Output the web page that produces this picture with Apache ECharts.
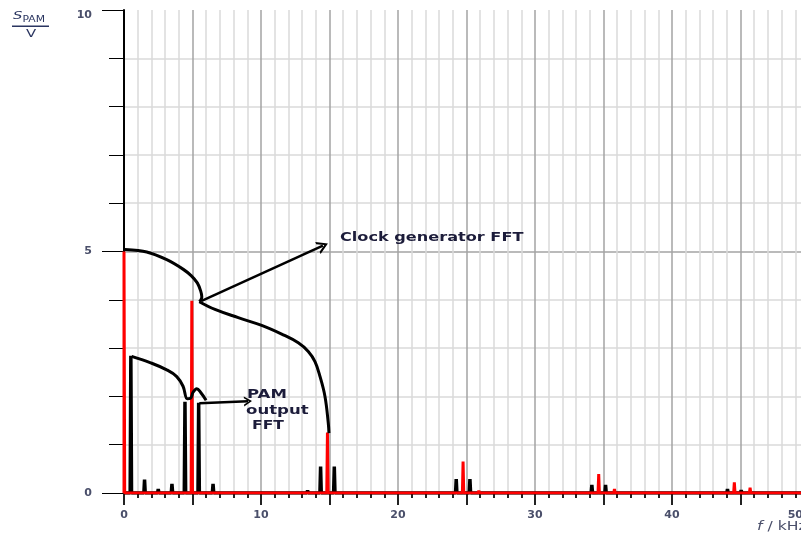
<!DOCTYPE html>
<html>
<head>
<meta charset="utf-8">
<script src="https://cdn.jsdelivr.net/npm/echarts@6/dist/echarts.min.js"></script>
<style>html,body{margin:0;padding:0;background:#fff}#c{width:801px;height:540px}</style>
</head>
<body>
<div id="c"></div>
<script>
// PAM output FFT spikes (kHz, V)
const pamFreq = [0.5, 1.5, 2.5, 3.5, 4.45, 5.45, 6.5, 7.5, 13.4, 14.35, 15.35, 16.35, 23.25, 24.25, 25.25, 34.15, 35.15, 36.3, 44.05, 45.05, 46.2];
const pamAmp  = [2.84, 0.28, 0.08, 0.19, 1.89, 1.87, 0.19, 0.03, 0.05, 0.55, 0.55, 0.04, 0.02, 0.29, 0.29, 0.17, 0.17, 0.03, 0.08, 0.06, 0.03];
// Clock generator FFT spikes (kHz, V)
const clkFreq = [0, 4.95, 14.85, 24.75, 25.9, 34.65, 35.8, 44.55, 45.7];
const clkAmp  = [5.0, 3.98, 1.25, 0.65, 0.05, 0.39, 0.08, 0.22, 0.11];
// hand-drawn envelope curves (kHz, V)
const clkEnvUpper = [[0.07,5.04],[1.66,4.99],[3.12,4.83],[4.33,4.63],[4.9,4.50],[5.35,4.35],[5.6,4.18],[5.68,4.06],[5.6,3.99],[5.5,3.96]];
const clkEnvLower = [[5.5,3.96],[6.64,3.80],[8.34,3.63],[10.05,3.47],[11.51,3.29],[12.72,3.11],[13.45,2.93],[13.94,2.72],[14.31,2.41],[14.67,2.00],[14.91,1.45],[14.96,1.24]];
const pamEnv = [[0.56,2.83],[1.9,2.70],[3.12,2.55],[3.85,2.41],[4.31,2.21],[4.62,1.95],[4.85,1.96],[5.05,2.09],[5.31,2.16],[5.6,2.08],[5.99,1.92]];
// annotation arrows [from, to]
const clkArrow = [[5.67,3.98],[14.52,5.12]];
const pamArrow = [[5.5,1.86],[9.05,1.9]];
const xTickLabels = [0, 10, 20, 30, 40, 50];
const yTickLabels = [0, 5, 10];

function spikeLine(freqs, amps, xEnd) {
  const d = [];
  const hw = 0.05;
  for (let i = 0; i < freqs.length; i++) {
    const f = freqs[i];
    if (f <= 0) { d.push([0, 0]); d.push([0, amps[i]]); d.push([hw, 0]); }
    else { d.push([f - hw, 0]); d.push([f, amps[i]]); d.push([f + hw, 0]); }
  }
  d.push([xEnd, 0]);
  if (freqs[0] > 0) d.unshift([0, 0]);
  return d;
}

const chevron = 'path://M0,10 L5,0 L10,10 L8.2,10 L5,3.6 L1.8,10 Z';
const txtColor = '#4a4f6a';
const annColor = '#1c1c3a';
const lblFont = {color: txtColor, fontSize: 11, fontWeight: 'bold', fontFamily: 'DejaVu Sans'};

const chart = echarts.init(document.getElementById('c'), null, {renderer: 'canvas'});
chart.setOption({
  animation: false,
  backgroundColor: '#fff',
  grid: {left: 124, right: -8, top: 10, bottom: 47, containLabel: false, outerBoundsMode: 'none'},
  xAxis: {
    type: 'value', min: 0, max: 50, interval: 5, offset: 2,
    axisLine: {show: true, lineStyle: {color: '#000', width: 2}},
    axisTick: {show: true, length: 12, lineStyle: {color: '#222', width: 2}},
    minorTick: {show: true, splitNumber: 5, length: 5, lineStyle: {color: '#222', width: 2}},
    splitLine: {show: true, lineStyle: {color: '#a3a3a3', width: 1.5}},
    minorSplitLine: {show: true, lineStyle: {color: '#dadada', width: 1.5}},
    axisLabel: Object.assign({
      margin: 15,
      alignMaxLabel: 'right',
      formatter: v => xTickLabels.indexOf(v) < 0 ? '' : (v === 50 ? '{r|' + v + '}' : String(v)),
      rich: {r: Object.assign({padding: [0, 6, 0, 0]}, lblFont)}
    }, lblFont)
  },
  yAxis: {
    type: 'value', min: 0, max: 10, interval: 5,
    axisLine: {show: true, lineStyle: {color: '#000', width: 2}},
    axisTick: {show: true, length: 22, lineStyle: {color: '#000', width: 1}},
    minorTick: {show: true, splitNumber: 5, length: 15, lineStyle: {color: '#000', width: 1}},
    splitLine: {show: true, showMinLine: false, showMaxLine: false, lineStyle: {color: '#a3a3a3', width: 1.5}},
    minorSplitLine: {show: true, lineStyle: {color: '#dadada', width: 1.5}},
    axisLabel: Object.assign({
      margin: 32,
      formatter: v => yTickLabels.indexOf(v) < 0 ? '' : (v === 10 ? '{t|' + v + '}' : String(v)),
      rich: {t: Object.assign({padding: [10, 0, 0, 0]}, lblFont)}
    }, lblFont)
  },
  series: [
    {
      name: 'PAM output FFT', type: 'line', data: spikeLine(pamFreq, pamAmp, 50),
      symbol: 'none', lineStyle: {color: '#000', width: 3.5}, z: 2, silent: true
    },
    {
      name: 'Clock generator FFT', type: 'line', data: spikeLine(clkFreq, clkAmp, 50),
      symbol: 'none', lineStyle: {color: '#ff0000', width: 3}, z: 3, silent: true
    },
    {
      type: 'line', data: clkEnvUpper, smooth: 0.3, symbol: 'none',
      lineStyle: {color: '#000', width: 3}, z: 4, silent: true
    },
    {
      type: 'line', data: clkEnvLower, smooth: 0.4, symbol: 'none',
      lineStyle: {color: '#000', width: 3}, z: 4, silent: true
    },
    {
      type: 'line', data: pamEnv, smooth: 0.4, symbol: 'none',
      lineStyle: {color: '#000', width: 3}, z: 4, silent: true,
      markLine: {
        silent: true, animation: false,
        symbol: ['none', chevron], symbolSize: [11, 10],
        label: {show: false},
        lineStyle: {color: '#000', width: 2.5, type: 'solid'},
        data: [
          [{coord: clkArrow[0], symbol: 'none'}, {coord: clkArrow[1], symbol: chevron, symbolSize: [13, 11]}],
          [{coord: pamArrow[0], symbol: 'none'}, {coord: pamArrow[1], symbol: chevron, symbolSize: [10, 8]}]
        ]
      }
    }
  ],
  graphic: [
    {type: 'text', x: 13, y: 22, scaleX: 1.35, z: 10,
      style: {text: '{s|S}{p|PAM}', textVerticalAlign: 'bottom', textAlign: 'left',
        rich: {s: {fontSize: 11, fontStyle: 'italic', fontFamily: 'DejaVu Sans', fill: '#2a3560', verticalAlign: 'bottom'},
               p: {fontSize: 8, fontFamily: 'DejaVu Sans', fill: '#2a3560', verticalAlign: 'bottom', padding: [0,0,-2,0]}}}},
    {type: 'rect', shape: {x: 12, y: 25.5, width: 37, height: 1.5}, style: {fill: '#2a3560'}, z: 10},
    {type: 'text', x: 31, y: 34, scaleX: 1.35, z: 10,
      style: {text: 'V', fontSize: 11, fontFamily: 'DejaVu Sans', fill: '#2a3560', textAlign: 'center', textVerticalAlign: 'middle'}},
    {type: 'text', x: 757, y: 527, scaleX: 1.3, z: 10,
      style: {text: '{i|f} / kHz', textVerticalAlign: 'middle', textAlign: 'left',
        rich: {i: {fontSize: 12, fontStyle: 'italic', fontFamily: 'DejaVu Sans', fill: txtColor}},
        fontSize: 12, fontFamily: 'DejaVu Sans', fill: txtColor}},
    {type: 'text', x: 340, y: 238, scaleX: 1.24, z: 10,
      style: {text: 'Clock generator FFT', fontSize: 13, fontWeight: 'bold', fontFamily: 'DejaVu Sans', fill: annColor, textAlign: 'left', textVerticalAlign: 'middle'}},
    {type: 'text', x: 247, y: 395, scaleX: 1.38, z: 10,
      style: {text: 'PAM', fontSize: 12, fontWeight: 'bold', fontFamily: 'DejaVu Sans', fill: annColor, textAlign: 'left', textVerticalAlign: 'middle'}},
    {type: 'text', x: 246, y: 411, scaleX: 1.38, z: 10,
      style: {text: 'output', fontSize: 12, fontWeight: 'bold', fontFamily: 'DejaVu Sans', fill: annColor, textAlign: 'left', textVerticalAlign: 'middle'}},
    {type: 'text', x: 252, y: 426, scaleX: 1.3, z: 10,
      style: {text: 'FFT', fontSize: 12, fontWeight: 'bold', fontFamily: 'DejaVu Sans', fill: annColor, textAlign: 'left', textVerticalAlign: 'middle'}}
  ]
});
</script>
</body>
</html>
